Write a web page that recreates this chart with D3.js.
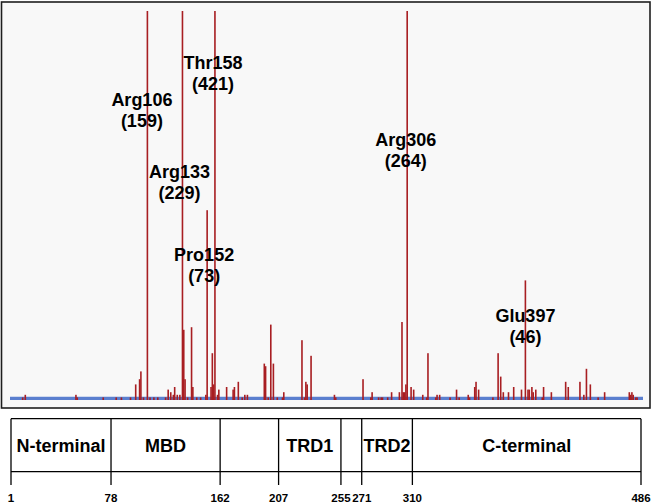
<!DOCTYPE html>
<html>
<head>
<meta charset="utf-8">
<script src="https://cdn.jsdelivr.net/npm/d3@7"></script>
<style>
  html, body { margin: 0; padding: 0; background: #ffffff; }
  svg { display: block; font-family: "Liberation Sans", Arial, Helvetica, sans-serif; }
</style>
</head>
<body>
<svg id="chart" width="653" height="504"></svg>
<script>
// ---- data ----
const positions = [10,12,51,52,72,82,86,93,97,100,101,103,106,108,111,114,120,122,124,126,127,129,131,
  133,134,135,137,140,141,144,147,151,152,155,156,157,158,160,161,167,172,173,176,179,181,183,
  196,197,199,201,203,206,210,211,225,227,228,229,232,250,251,272,278,279,284,286,287,291,294,
  300,302,303,304,305,306,309,311,318,321,322,328,329,331,339,344,346,353,354,358,359,361,
  372,376,378,380,384,388,394,397,399,400,402,403,405,410,411,417,428,430,439,442,444,447,453,458,
  477,478,479,480,482,483];
const counts = [1,2,2,1,1,1,1,1,6,8,11,1,159,1,1,1,1,4,3,2,5,2,2,
  229,27,8,1,28,5,1,1,2,73,5,18,6,421,2,4,5,4,5,7,1,2,2,
  14,13,1,29,14,1,1,3,23,1,7,6,17,2,1,8,1,3,1,1,1,1,3,
  3,30,3,3,6,264,5,4,2,1,18,1,2,2,1,4,1,2,1,5,7,4,
  1,18,9,3,3,5,4,46,4,4,5,3,4,1,5,3,7,5,7,2,12,6,1,3,
  3,2,3,2,1,1];

const hotspotNames = ["Arg106","Arg133","Pro152","Thr158","Arg306","Glu397"];
const hotspotPositions = [106,133,152,158,306,397];
const hotspotCounts = [159,229,73,421,264,46];

const domainStarts = [1,78,162,207,255,271,310];
const domainEnds   = [78,162,207,255,271,310,486];
const domainNames  = ["N-terminal","MBD","","TRD1","","TRD2","C-terminal"];
const tickLabels   = [1,78,162,207,255,271,310,486];

// ---- layout (label placement, pixels) ----
const labelLayout = {
  "Arg106": {dx: -5.5, y: 106},
  "Arg133": {dx: -3, y: 178},
  "Pro152": {dx: -3, y: 261},
  "Thr158": {dx: -2, y: 69},
  "Arg306": {dx: -1.5, y: 146},
  "Glu397": {dx: 0, y: 322}
};

const svg = d3.select("#chart");
const x = d3.scaleLinear().domain([1, 486]).range([11, 641]);
const y = d3.scaleLinear().domain([0, 150]).range([400, 10]);

// plot frame
svg.append("rect")
  .attr("x", 1.5).attr("y", 2).attr("width", 648.5).attr("height", 406)
  .attr("fill", "#f8f8f8").attr("stroke", "#1e1e1e").attr("stroke-width", 1.6);

svg.append("clipPath").attr("id", "plotclip")
  .append("rect").attr("x", 3).attr("y", 11).attr("width", 645).attr("height", 392);

// baseline
svg.append("line")
  .attr("x1", x(1) - 1).attr("x2", x(486) + 2)
  .attr("y1", 398.3).attr("y2", 398.3)
  .attr("stroke", "#5b7fcf").attr("stroke-width", 3.2);

// bars
const bars = positions.map((p, i) => ({pos: p, count: counts[i]}));
svg.append("g").attr("clip-path", "url(#plotclip)")
  .selectAll("rect").data(bars).join("rect")
  .attr("x", d => x(d.pos) - 0.8)
  .attr("width", 1.6)
  .attr("y", d => y(d.count))
  .attr("height", d => y(0) - y(d.count))
  .attr("fill", "#a81e22");

// hotspot labels
const hs = hotspotNames.map((n, i) => ({name: n, pos: hotspotPositions[i], count: hotspotCounts[i]}));
const lab = svg.append("g").attr("font-weight", "bold").attr("font-size", 18)
  .attr("text-anchor", "middle").attr("fill", "#000");
hs.forEach(d => {
  const L = labelLayout[d.name];
  lab.append("text").attr("x", x(d.pos) + L.dx).attr("y", L.y).text(d.name);
  lab.append("text").attr("x", x(d.pos) + L.dx).attr("y", L.y + 21).text("(" + d.count + ")");
});

// domain bar
const dg = svg.append("g").attr("stroke", "#000").attr("stroke-width", 1.3);
const boxTop = 418.7, boxMid = 471.7, boxBot = 485;
dg.append("line").attr("x1", x(1)).attr("x2", x(486)).attr("y1", boxTop).attr("y2", boxTop);
dg.append("line").attr("x1", x(1)).attr("x2", x(486)).attr("y1", boxMid).attr("y2", boxMid);
tickLabels.forEach(t => {
  dg.append("line").attr("x1", x(t)).attr("x2", x(t)).attr("y1", boxTop).attr("y2", boxBot);
});

const dl = svg.append("g").attr("font-weight", "bold").attr("font-size", 18)
  .attr("text-anchor", "middle").attr("fill", "#000");
domainNames.forEach((n, i) => {
  if (!n) return;
  dl.append("text").attr("x", (x(domainStarts[i]) + x(domainEnds[i])) / 2)
    .attr("y", 451.5).text(n);
});

const tl = svg.append("g").attr("font-weight", "bold").attr("font-size", 11.5)
  .attr("text-anchor", "middle").attr("fill", "#000");
tickLabels.forEach(t => {
  tl.append("text").attr("x", x(t)).attr("y", 502).text(t);
});
</script>
</body>
</html>
